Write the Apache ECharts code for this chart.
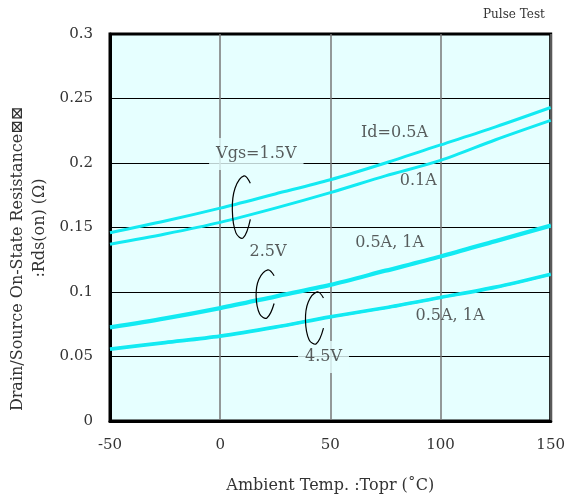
<!DOCTYPE html>
<html>
<head>
<meta charset="utf-8">
<script src="https://cdn.jsdelivr.net/npm/echarts@6/dist/echarts.min.js"></script>
<style>
  html, body { margin: 0; padding: 0; background: #fff; }
  #chart { width: 568px; height: 499px; }
</style>
</head>
<body>
<div id="chart"></div>
<script>
// ambient temperature (C)
const temps = [-50, -25, 0, 25, 50, 75, 100, 125, 150]
// Rds(on) (ohm)
const vgs15Id05 = [0.146, 0.155, 0.165, 0.176, 0.187, 0.200, 0.214, 0.228, 0.243]
const vgs15Id01 = [0.137, 0.145, 0.154, 0.165, 0.177, 0.190, 0.202, 0.218, 0.233]
const vgs25Id05 = [0.073, 0.080, 0.088, 0.097, 0.106, 0.117, 0.128, 0.140, 0.152]
const vgs25Id1 = [0.072, 0.079, 0.087, 0.096, 0.105, 0.116, 0.127, 0.139, 0.151]
const vgs45Id05 = [0.056, 0.061, 0.066, 0.073, 0.081, 0.088, 0.096, 0.104, 0.114]
const vgs45Id1 = [0.0555, 0.0605, 0.0655, 0.0725, 0.0805, 0.0875, 0.0955, 0.1035, 0.1135]
// annotation texts [temp, value, text, hides grid]
const notes = [
  [16.4, 0.207, 'Vgs=1.5V', true],
  [79.1, 0.223, 'Id=0.5A', false],
  [89.9, 0.186, '0.1A', false],
  [21.7, 0.131, '2.5V', false],
  [76.9, 0.138, '0.5A, 1A', false],
  [104.3, 0.0814, '0.5A, 1A', false],
  [46.9, 0.0496, '4.5V', true]
]
// curly brackets [temp, value, height px]
const brackets = [[9.6, 0.166, 62], [20.4, 0.0985, 48], [42.8, 0.080, 52]]

const font = 'DejaVu Serif'
const bg = '#E6FFFF'
const lineColor = '#12EAF2'

const chart = echarts.init(document.getElementById('chart'))

function line(name, vals) {
  return {
    name: name,
    type: 'line',
    data: temps.map((t, i) => [t, vals[i]]),
    smooth: 0.3,
    symbol: 'none',
    lineStyle: { color: lineColor, width: 3 },
    z: 3
  }
}

const option = {
  animation: false,
  grid: {
    left: 110,
    right: 12,
    top: 34,
    bottom: 78,
    show: true,
    backgroundColor: bg,
    borderColor: '#000',
    borderWidth: 3
  },
  xAxis: {
    type: 'value',
    min: -50,
    max: 150,
    interval: 50,
    axisLine: { show: true, onZero: false, lineStyle: { color: '#000', width: 3 } },
    axisTick: { show: false },
    axisLabel: { color: '#333', fontFamily: font, fontSize: 15, margin: 17 },
    splitLine: { show: true, lineStyle: { color: '#777', width: 1.5 } },
    name: 'Ambient Temp. :Topr (˚C)',
    nameLocation: 'middle',
    nameGap: 57,
    nameTextStyle: { color: '#333', fontFamily: font, fontSize: 16 }
  },
  yAxis: {
    type: 'value',
    min: 0,
    max: 0.3,
    interval: 0.05,
    axisLine: { show: true, onZero: false, lineStyle: { color: '#000', width: 3 } },
    axisTick: { show: false },
    axisLabel: { color: '#333', fontFamily: font, fontSize: 15, margin: 17 },
    splitLine: { show: true, lineStyle: { color: '#000', width: 1 } }
  },
  series: [
    line('1.5V 0.5A', vgs15Id05),
    line('1.5V 0.1A', vgs15Id01),
    line('2.5V 0.5A', vgs25Id05),
    line('2.5V 1A', vgs25Id1),
    line('4.5V 0.5A', vgs45Id05),
    line('4.5V 1A', vgs45Id1),
    {
      type: 'scatter',
      symbolSize: 0,
      silent: true,
      z: 4,
      data: notes.map(n => ({
        value: [n[0], n[1]],
        label: {
          show: true,
          position: 'inside',
          formatter: n[2],
          color: '#333',
          fontFamily: font,
          fontSize: 16,
          backgroundColor: n[3] ? bg : 'transparent',
          padding: n[3] ? [8, 7] : 0
        }
      }))
    }
  ],
  graphic: [
    {
      type: 'text', left: 483, top: 9,
      style: { text: 'Pulse Test', fill: '#333', font: '12px "DejaVu Serif"' }
    },
    {
      type: 'text', x: 18, y: 259, rotation: Math.PI / 2,
      style: { text: 'Drain/Source On-State Resistance⊠⊠', fill: '#333', font: '16px "DejaVu Serif"', align: 'center', verticalAlign: 'middle' }
    },
    {
      type: 'text', x: 40, y: 228, rotation: Math.PI / 2,
      style: { text: ':Rds(on) (Ω)', fill: '#333', font: '16px "DejaVu Serif"', align: 'center', verticalAlign: 'middle' }
    }
  ]
}
chart.setOption(option)

// curly brackets placed through the axes
const marks = brackets.map(b => {
  const p = chart.convertToPixel({ gridIndex: 0 }, [b[0], b[1]])
  const h = b[2]
  const w = 18
  const cx = p[0]
  const cy = p[1]
  return {
    type: 'polyline',
    z: 10,
    shape: {
      points: [
        [cx + 0.5 * w, cy - 0.38 * h],
        [cx + 0.15 * w, cy - 0.5 * h],
        [cx - 0.35 * w, cy - 0.3 * h],
        [cx - 0.5 * w, cy + 0.05 * h],
        [cx - 0.3 * w, cy + 0.42 * h],
        [cx + 0.1 * w, cy + 0.5 * h],
        [cx + 0.5 * w, cy + 0.2 * h]
      ],
      smooth: 0.4
    },
    style: { stroke: '#000', lineWidth: 1.2, fill: 'none' }
  }
})
chart.setOption({ graphic: option.graphic.concat(marks) })
</script>
</body>
</html>
